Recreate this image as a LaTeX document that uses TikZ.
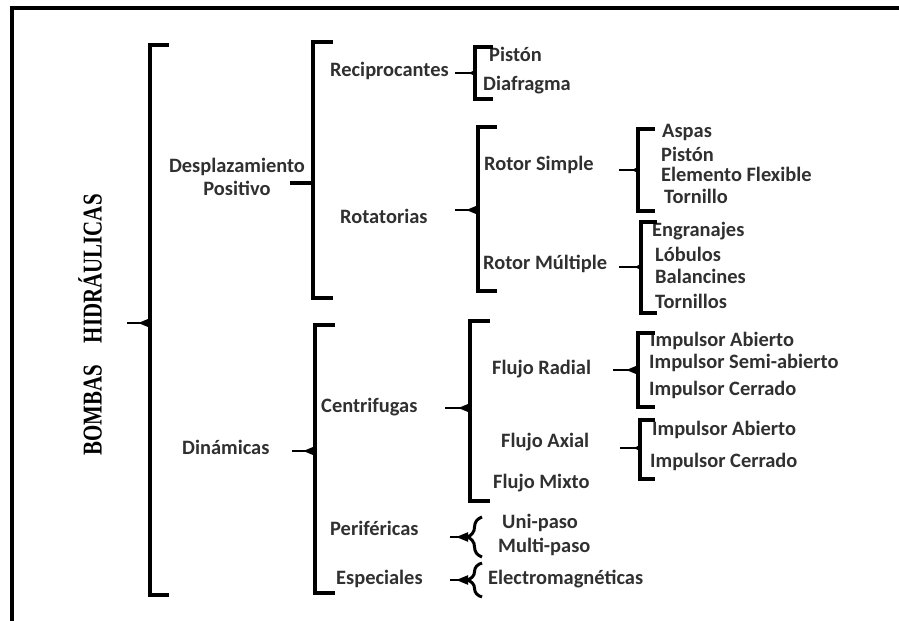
\documentclass[tikz,border=0pt]{standalone}
\usepackage{fontspec}
\setmainfont{Carlito}
\newfontfamily\titlefont{Liberation Serif}
\usetikzlibrary{arrows.meta,decorations.pathreplacing}
\definecolor{txt}{HTML}{303030}
\tikzset{
  lbl/.style={anchor=west, inner sep=0pt, text=txt,
    font=\fontsize{20.5}{23}\selectfont\bfseries, text height=14pt, text depth=4pt},
  brk/.style={line width=3.2pt, line join=miter},
  borderline/.style={line width=4pt, line cap=butt},
  thintick/.style={line width=1.6pt, -{Triangle[reversed,length=6pt,width=6pt]}},
  wedgetick/.style={line width=2.2pt, -{Triangle[reversed,length=12pt,width=9pt]}},
  bartick/.style={line width=4.5pt},
  curly/.style={line width=3pt, decorate, decoration={brace, amplitude=15pt}}
}
\newcommand\mybrack[4]{\draw[brk] (#1+#4,#2) -- (#1,#2) -- (#1,#3) -- (#1+#4,#3);}
\begin{document}
\begin{tikzpicture}[x=1bp,y=-1bp]
\useasboundingbox (0,0) rectangle (899,621);
\fill[white] (0,0) rectangle (899,621);
% frame
\draw[borderline] (12,621) -- (12,8) -- (899,8);

% title
\node[rotate=90, inner sep=0pt] (title) at (90,325)
  {\scalebox{1}[1.3]{\titlefont\fontsize{21}{21}\selectfont\bfseries BOMBAS\hspace{22pt}HIDRÁULICAS}};

% level 1
\node[lbl, anchor=center, align=center, text height=, text depth=] (desp) at (237,177) {Desplazamiento\\Positivo};
\node[lbl] (dina) at (182,450) {Dinámicas};

% level 2
\node[lbl] (recip) at (330,72) {Reciprocantes};
\node[lbl] (rotat) at (340,219) {Rotatorias};
\node[lbl] (centr) at (321,408) {Centrifugas};
\node[lbl] (perif) at (330,531) {Periféricas};
\node[lbl] (espec) at (336,580) {Especiales};

% level 3
\node[lbl] (piston1) at (489,57) {Pistón};
\node[lbl] (diaf) at (483,86) {Diafragma};
\node[lbl] (rsimple) at (484,166) {Rotor Simple};
\node[lbl] (rmult) at (483,265) {Rotor Múltiple};
\node[lbl] (fradial) at (492,370) {Flujo Radial};
\node[lbl] (faxial) at (501,443) {Flujo Axial};
\node[lbl] (fmixto) at (493,484) {Flujo Mixto};
\node[lbl] (uni) at (502,524) {Uni-paso};
\node[lbl] (multi) at (498,548) {Multi-paso};
\node[lbl] (electro) at (488,580) {Electromagnéticas};

% level 4
\node[lbl] (aspas) at (662,133) {Aspas};
\node[lbl] (piston2) at (661,157) {Pistón};
\node[lbl] (elem) at (661,177) {Elemento Flexible};
\node[lbl] (torn) at (664,199) {Tornillo};
\node[lbl] (engr) at (652,232) {Engranajes};
\node[lbl] (lob) at (655,257) {Lóbulos};
\node[lbl] (bal) at (655,279) {Balancines};
\node[lbl] (torns) at (655,304) {Tornillos};
\node[lbl] (ia1) at (650,342) {Impulsor Abierto};
\node[lbl] (isa) at (649,364) {Impulsor Semi-abierto};
\node[lbl] (ic1) at (649,391) {Impulsor Cerrado};
\node[lbl] (ia2) at (652,431) {Impulsor Abierto};
\node[lbl] (ic2) at (650,463) {Impulsor Cerrado};

% brackets
\mybrack{150}{45}{595}{19}
\mybrack{313}{42}{298}{20}
\mybrack{315}{325}{593}{20}
\mybrack{475}{47}{99}{18}
\mybrack{478}{127}{291}{19}
\mybrack{470}{321}{501}{20}
\mybrack{638}{129}{211}{17}
\mybrack{641}{222}{313}{16}
\mybrack{638}{333}{407}{17}
\mybrack{640}{420}{479}{15}
\draw[curly] (482,557) -- (482,517);
\draw[curly] (482,597) -- (482,563);

% tick coordinates
\coordinate (k1a) at (127,323); \coordinate (k1b) at (150,323);
\coordinate (k2a) at (290,183); \coordinate (k2b) at (313,183);
\coordinate (k3a) at (292,451); \coordinate (k3b) at (315,451);
\coordinate (k4a) at (455,73);  \coordinate (k4b) at (475,73);
\coordinate (k5a) at (455,210); \coordinate (k5b) at (478,210);
\coordinate (k6a) at (445,408); \coordinate (k6b) at (470,408);
\coordinate (k7a) at (619,170); \coordinate (k7b) at (638,170);
\coordinate (k8a) at (619,267); \coordinate (k8b) at (641,267);
\coordinate (k9a) at (613,370); \coordinate (k9b) at (638,370);
\coordinate (k10a) at (620,448); \coordinate (k10b) at (640,448);
\coordinate (k11a) at (450,537); \coordinate (k11b) at (468,537);
\coordinate (k12a) at (450,580); \coordinate (k12b) at (468,580);

% ticks
\draw[wedgetick] (k1a) -- (k1b);
\draw[bartick] (k2a) -- (k2b);
\draw[wedgetick] (k3a) -- (k3b);
\draw[thintick] (k4a) -- (k4b);
\draw[wedgetick] (k5a) -- (k5b);
\draw[wedgetick] (k6a) -- (k6b);
\draw[thintick] (k7a) -- (k7b);
\draw[thintick] (k8a) -- (k8b);
\draw[wedgetick] (k9a) -- (k9b);
\draw[thintick] (k10a) -- (k10b);
\draw[wedgetick] (k11a) -- (k11b);
\draw[wedgetick] (k12a) -- (k12b);
\end{tikzpicture}
\end{document}
